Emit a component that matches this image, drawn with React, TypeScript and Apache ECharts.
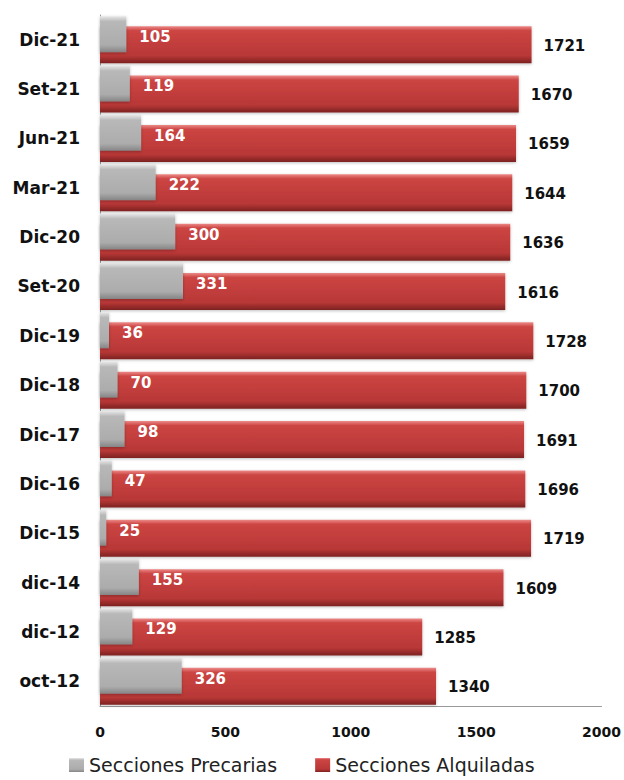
import React, { useEffect, useRef } from "react";
import * as echarts from "echarts";

const categories = ["Dic-21", "Set-21", "Jun-21", "Mar-21", "Dic-20", "Set-20", "Dic-19", "Dic-18", "Dic-17", "Dic-16", "Dic-15", "dic-14", "dic-12", "oct-12"];
const precarias = [105, 119, 164, 222, 300, 331, 36, 70, 98, 47, 25, 155, 129, 326];
const alquiladas = [1721, 1670, 1659, 1644, 1636, 1616, 1728, 1700, 1691, 1696, 1719, 1609, 1285, 1340];
const xTicks = [0, 500, 1000, 1500, 2000];

const FONT = "DejaVu Sans";

export default function App() {
  const ref = useRef<HTMLDivElement>(null);
  useEffect(() => {
    if (!ref.current) return;
    const chart = echarts.init(ref.current, null, { renderer: "svg" });
    const redGrad = new echarts.graphic.LinearGradient(0, 0, 0, 1, [
      { offset: 0, color: "#ec8a88" },
      { offset: 0.12, color: "#cc4543" },
      { offset: 0.8, color: "#b83736" },
      { offset: 1, color: "#7c2221" },
    ]);
    const grayGrad = new echarts.graphic.LinearGradient(0, 0, 0, 1, [
      { offset: 0, color: "#e8e8e8" },
      { offset: 0.15, color: "#b8b8b8" },
      { offset: 0.8, color: "#acacac" },
      { offset: 1, color: "#858585" },
    ]);
    chart.setOption({
      animation: false,
      textStyle: { fontFamily: FONT },
      grid: { left: 100, right: 21, top: 15, bottom: 74, containLabel: false },
      legend: {
        top: 755,
        left: 69,
        itemGap: 38,
        itemWidth: 15,
        itemHeight: 14,
        padding: 0,
        icon: "rect",
        data: ["Secciones Precarias", "Secciones Alquiladas"],
        textStyle: { fontFamily: FONT, fontSize: 19, lineHeight: 20, color: "#222" },
      },
      xAxis: {
        type: "value",
        min: xTicks[0],
        max: xTicks[xTicks.length - 1],
        interval: 500,
        splitLine: { show: false },
        axisLine: { show: true, lineStyle: { color: "#9a9a9a" } },
        axisTick: { show: false },
        axisLabel: {
          fontFamily: FONT,
          fontWeight: "bold",
          fontSize: 14,
          color: "#111",
          margin: 19,
          formatter: (v: number) => String(v),
        },
      },
      yAxis: {
        type: "category",
        data: categories,
        inverse: true,
        axisLine: { show: true, lineStyle: { color: "#9a9a9a" } },
        axisTick: { show: false },
        axisLabel: { fontFamily: FONT, fontWeight: "bold", fontSize: 17, color: "#111", margin: 20 },
      },
      series: [
        {
          name: "Secciones Precarias",
          type: "bar",
          data: precarias,
          barWidth: 36,
          barGap: "-72%",
          itemStyle: { color: grayGrad, shadowColor: "rgba(0,0,0,0.25)", shadowBlur: 3, shadowOffsetY: 1 },
          label: {
            show: true,
            position: "right",
            distance: 13,
            offset: [0, 3],
            fontFamily: FONT,
            fontWeight: "bold",
            fontSize: 15,
            color: "#ffffff",
          },
          z: 3,
        },
        {
          name: "Secciones Alquiladas",
          type: "bar",
          data: alquiladas,
          barWidth: 37,
          barGap: "-72%",
          itemStyle: { color: redGrad, shadowColor: "rgba(0,0,0,0.25)", shadowBlur: 3, shadowOffsetY: 1 },
          label: {
            show: true,
            position: "right",
            distance: 12,
            offset: [0, 1],
            fontFamily: FONT,
            fontWeight: "bold",
            fontSize: 15,
            color: "#111",
          },
          z: 2,
        },
      ],
    });
    return () => chart.dispose();
  }, []);
  return <div ref={ref} style={{ position: "absolute", left: 0, top: 0, width: 624, height: 780 }} />;
}
